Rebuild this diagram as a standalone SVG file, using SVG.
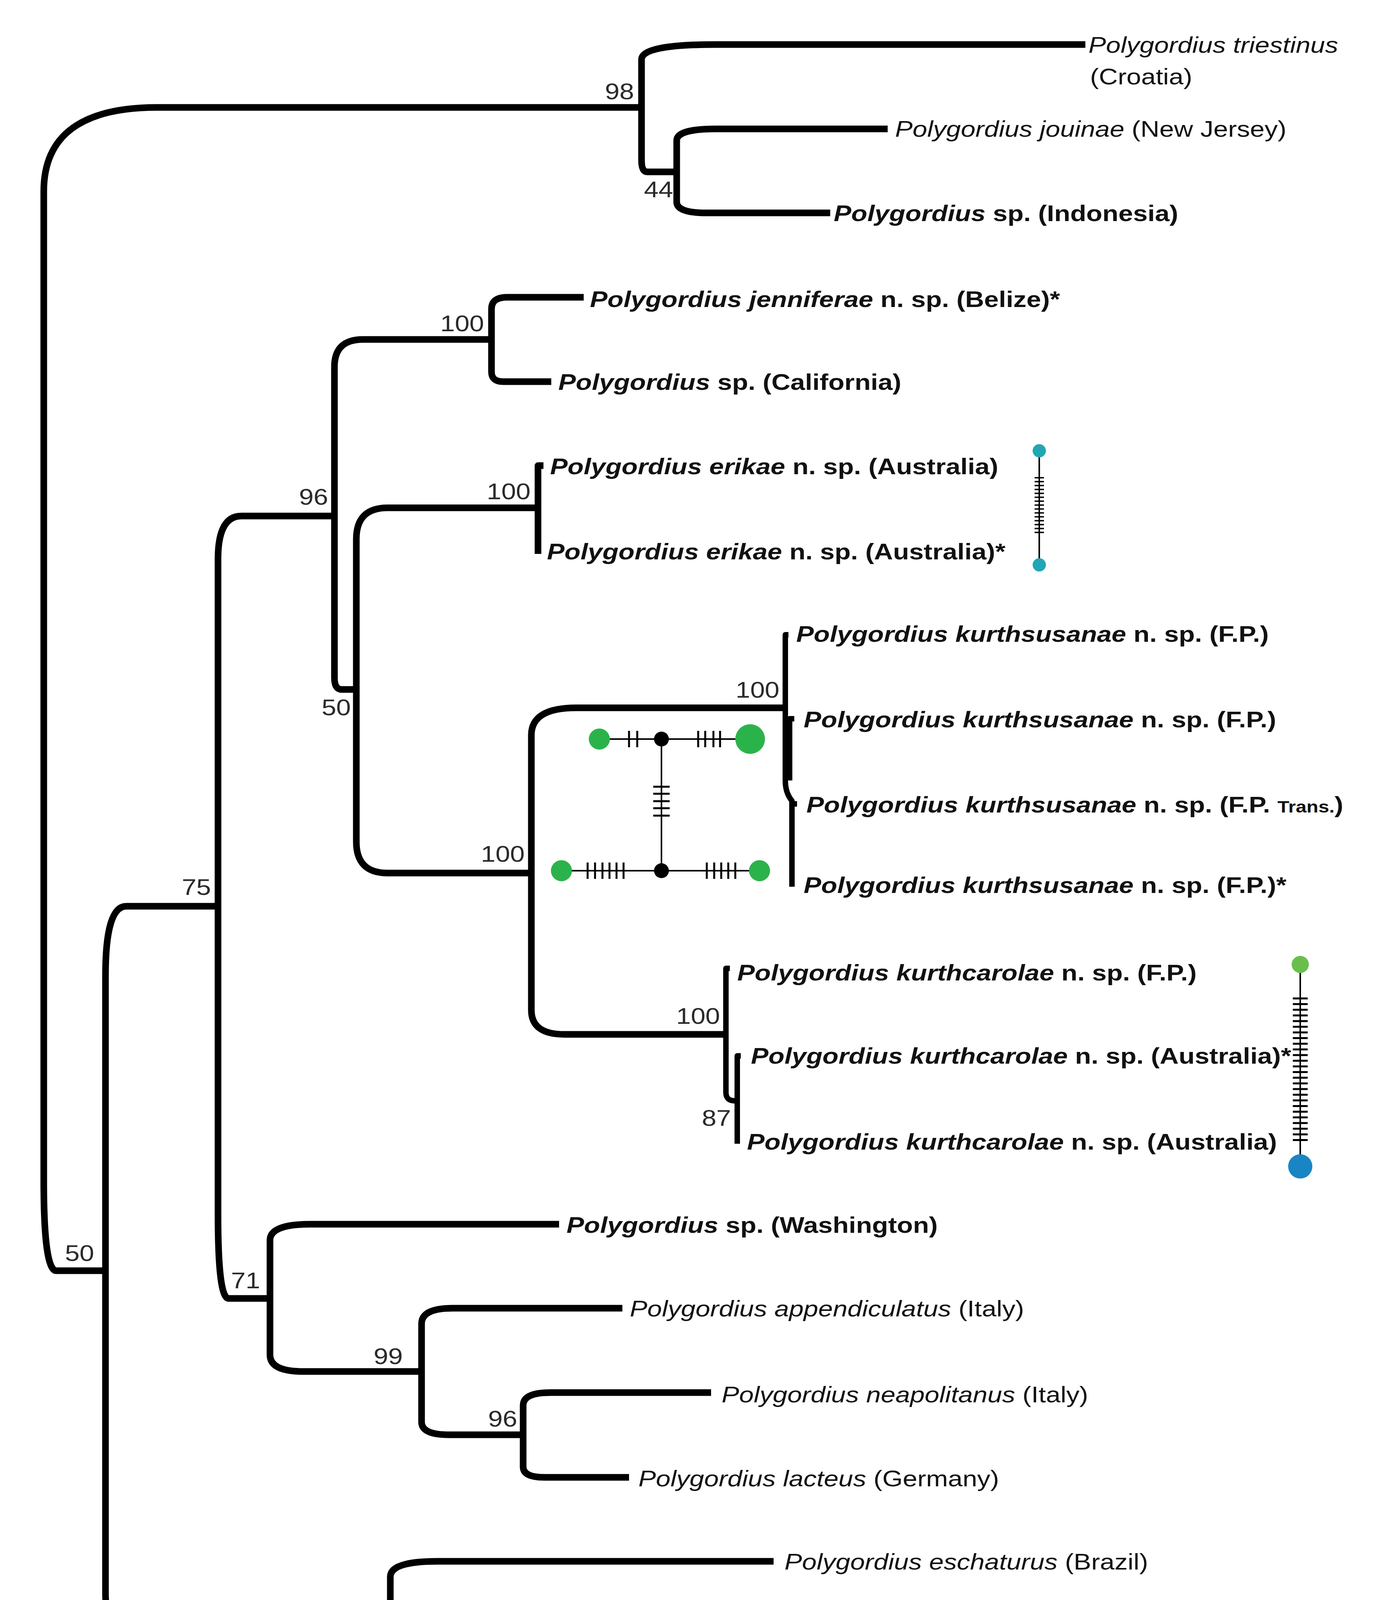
<svg xmlns="http://www.w3.org/2000/svg" width="3527" height="5065" viewBox="0 0 3527 5065">
<style>
.br{fill:none;stroke:#000;stroke-width:17;stroke-linecap:butt;stroke-linejoin:round}
.fine{fill:none;stroke:#000;stroke-width:14;stroke-linecap:butt;stroke-linejoin:round}
.t{font-family:"Liberation Sans",Arial,Helvetica,sans-serif;font-size:57px;fill:#111}
.b{font-weight:bold}
.i{font-style:italic}
.sm{font-size:42px}
.s{font-family:"Liberation Sans",Arial,Helvetica,sans-serif;font-size:57px;fill:#2a2a2a;text-anchor:end}
.nl{fill:none;stroke:#000;stroke-width:4}
.tk{fill:none;stroke:#000;stroke-width:5}
.tk3{fill:none;stroke:#000;stroke-width:3.5}
</style>
<rect width="3527" height="5065" fill="#fff"/>
<g id="connectors">
<path class="br" d="M112,1766 V490 Q112,275 402,275 H1642"/>
<path class="br" d="M112,1766 V3023 Q112,3253 144,3253 H270"/>
<path class="br" d="M1642,275 V152 Q1642,114 1832,114 H2778"/>
<path class="br" d="M1642,275 V410 Q1642,440 1657,440 H1732"/>
<path class="br" d="M1732,440 V360 Q1732,330 1832,330 H2272"/>
<path class="br" d="M1732,440 V517 Q1732,545 1807,545 H2125"/>
<path class="br" d="M270,3253 V2498 Q270,2320 323,2320 H558"/>
<path class="br" d="M270,3253 V4085 Q270,4185 410,4185 H999"/>
<path class="br" d="M558,2320 V1431 Q558,1321 618,1321 H856"/>
<path class="br" d="M558,2320 V3109 Q558,3324 585,3324 H691"/>
<path class="br" d="M856,1321 V939 Q856,869 929,869 H1258"/>
<path class="br" d="M856,1321 V1735 Q856,1765 874,1765 H912"/>
<path class="br" d="M1258,869 V791 Q1258,761 1298,761 H1494"/>
<path class="br" d="M1258,869 V952 Q1258,977 1288,977 H1411"/>
<path class="br" d="M912,1765 V1380 Q912,1300 992,1300 H1377"/>
<path class="br" d="M912,1765 V2155 Q912,2235 992,2235 H1360"/>
<path class="br" d="M1391,1192 H1377 V1418"/>
<path class="br" d="M1360,2235 V1882 Q1360,1812 1475,1812 H2010"/>
<path class="br" d="M1360,2235 V2586 Q1360,2648 1445,2648 H1858"/>
<path class="fine" d="M2018,1625 H2010 V1998 Q2010,2030 2027,2050 V2270"/>
<path class="fine" d="M2033,1840 H2021 V1998"/>
<path class="fine" d="M2027,2058 H2040"/>
<path class="fine" d="M1868,2479 H1858 V2796 Q1858,2818 1880,2818 H1887"/>
<path class="fine" d="M1896,2703 H1887 V2928"/>
<path class="br" d="M691,3324 V3175 Q691,3134 794,3134 H1431"/>
<path class="br" d="M691,3324 V3468 Q691,3511 776,3511 H1079"/>
<path class="br" d="M1079,3511 V3389 Q1079,3349 1159,3349 H1593"/>
<path class="br" d="M1079,3511 V3640 Q1079,3673 1149,3673 H1339"/>
<path class="br" d="M1339,3673 V3598 Q1339,3565 1409,3565 H1820"/>
<path class="br" d="M1339,3673 V3755 Q1339,3782 1394,3782 H1610"/>
<path class="br" d="M999,4185 V4037 Q999,3997 1119,3997 H1980"/>
<path class="br" d="M999,4185 V4338 Q999,4375 1104,4375 H1594"/>
<path class="br" d="M1606,4207 H1594 V4885 Q1594,4906 1612,4906 H1625"/>
<path class="fine" d="M1634,4553 H1625 V5008"/>
<path class="br" d="M1625,4792 H1655"/>
</g>
<g id="support">
<text class="s" transform="translate(1623,254) scale(1.18,1)">98</text>
<text class="s" transform="translate(1723,505) scale(1.18,1)">44</text>
<text class="s" transform="translate(1239,848) scale(1.18,1)">100</text>
<text class="s" transform="translate(840,1292) scale(1.18,1)">96</text>
<text class="s" transform="translate(898,1831) scale(1.18,1)">50</text>
<text class="s" transform="translate(1358,1278) scale(1.18,1)">100</text>
<text class="s" transform="translate(1995,1786) scale(1.18,1)">100</text>
<text class="s" transform="translate(1343,2206) scale(1.18,1)">100</text>
<text class="s" transform="translate(1843,2621) scale(1.18,1)">100</text>
<text class="s" transform="translate(1871,2882) scale(1.18,1)">87</text>
<text class="s" transform="translate(540,2291) scale(1.18,1)">75</text>
<text class="s" transform="translate(241,3228) scale(1.18,1)">50</text>
<text class="s" transform="translate(666,3298) scale(1.18,1)">71</text>
<text class="s" transform="translate(1031,3492) scale(1.18,1)">99</text>
<text class="s" transform="translate(1324,3652) scale(1.18,1)">96</text>
<text class="s" transform="translate(985,4162) scale(1.18,1)">88</text>
<text class="s" transform="translate(1570,4349) scale(1.18,1)">99</text>
</g>
<g id="tips">
<g id="tip-triestinus"><text class="t" transform="translate(2786,135) scale(1.18,1)"><tspan class="i">Polygordius triestinus</tspan></text><text class="t" transform="translate(2790,216) scale(1.18,1)">(Croatia)</text></g>
<g id="tip-jouinae"><text class="t" transform="translate(2291,350) scale(1.18,1)"><tspan class="i">Polygordius jouinae</tspan> (New Jersey)</text></g>
<g id="tip-indonesia"><text class="t b" transform="translate(2134,566) scale(1.18,1)"><tspan class="i">Polygordius</tspan> sp. (Indonesia)</text></g>
<g id="tip-jenniferae"><text class="t b" transform="translate(1510,786) scale(1.18,1)"><tspan class="i">Polygordius jenniferae</tspan> n. sp. (Belize)*</text></g>
<g id="tip-california"><text class="t b" transform="translate(1429,998) scale(1.18,1)"><tspan class="i">Polygordius</tspan> sp. (California)</text></g>
<g id="tip-erikae-1"><text class="t b" transform="translate(1408,1214) scale(1.18,1)"><tspan class="i">Polygordius erikae</tspan> n. sp. (Australia)</text></g>
<g id="tip-erikae-2"><text class="t b" transform="translate(1400,1432) scale(1.18,1)"><tspan class="i">Polygordius erikae</tspan> n. sp. (Australia)*</text></g>
<g id="tip-kurthsusanae-1"><text class="t b" transform="translate(2038,1643) scale(1.18,1)"><tspan class="i">Polygordius kurthsusanae</tspan> n. sp. (F.P.)</text></g>
<g id="tip-kurthsusanae-2"><text class="t b" transform="translate(2057,1862) scale(1.18,1)"><tspan class="i">Polygordius kurthsusanae</tspan> n. sp. (F.P.)</text></g>
<g id="tip-kurthsusanae-3"><text class="t b" transform="translate(2064,2080) scale(1.18,1)"><tspan class="i">Polygordius kurthsusanae</tspan> n. sp. (F.P. <tspan class="sm">Trans.</tspan>)</text></g>
<g id="tip-kurthsusanae-4"><text class="t b" transform="translate(2057,2286) scale(1.18,1)"><tspan class="i">Polygordius kurthsusanae</tspan> n. sp. (F.P.)*</text></g>
<g id="tip-kurthcarolae-1"><text class="t b" transform="translate(1887,2510) scale(1.18,1)"><tspan class="i">Polygordius kurthcarolae</tspan> n. sp. (F.P.)</text></g>
<g id="tip-kurthcarolae-2"><text class="t b" transform="translate(1922,2723) scale(1.18,1)"><tspan class="i">Polygordius kurthcarolae</tspan> n. sp. (Australia)*</text></g>
<g id="tip-kurthcarolae-3"><text class="t b" transform="translate(1912,2943) scale(1.18,1)"><tspan class="i">Polygordius kurthcarolae</tspan> n. sp. (Australia)</text></g>
<g id="tip-washington"><text class="t b" transform="translate(1450,3156) scale(1.18,1)"><tspan class="i">Polygordius</tspan> sp. (Washington)</text></g>
<g id="tip-appendiculatus"><text class="t" transform="translate(1612,3370) scale(1.18,1)"><tspan class="i">Polygordius appendiculatus</tspan> (Italy)</text></g>
<g id="tip-neapolitanus"><text class="t" transform="translate(1847,3590) scale(1.18,1)"><tspan class="i">Polygordius neapolitanus</tspan> (Italy)</text></g>
<g id="tip-lacteus"><text class="t" transform="translate(1634,3805) scale(1.18,1)"><tspan class="i">Polygordius lacteus</tspan> (Germany)</text></g>
<g id="tip-eschaturus"><text class="t" transform="translate(2008,4018) scale(1.18,1)"><tspan class="i">Polygordius eschaturus</tspan> (Brazil)</text></g>
<g id="tip-pacificus-1"><text class="t b" transform="translate(1631,4237) scale(1.18,1)"><tspan class="i">Polygordius pacificus</tspan> (Japan)</text></g>
<g id="tip-pacificus-2"><text class="t b" transform="translate(1625,4427) scale(1.18,1)"><tspan class="i">Polygordius pacificus</tspan> (Japan)</text></g>
<g id="tip-pacificus-3"><text class="t b" transform="translate(1649,4588) scale(1.18,1)"><tspan class="i">Polygordius pacificus</tspan> (Japan)</text></g>
<g id="tip-pacificus-4"><text class="t b" transform="translate(1669,4812) scale(1.18,1)"><tspan class="i">Polygordius pacificus</tspan> (Japan)</text></g>
<g id="tip-pacificus-5"><text class="t b" transform="translate(1642,5002) scale(1.18,1)"><tspan class="i">Polygordius pacificus</tspan> (Japan)</text></g>
</g>
<g id="network-erikae">
<line class="nl" x1="2660" y1="1154" x2="2660" y2="1446" stroke-width="3"/>
<path class="tk3" d="M2648,1223H2672M2648,1233H2672M2648,1243H2672M2648,1253H2672M2648,1263H2672M2648,1273H2672M2648,1283H2672M2648,1293H2672M2648,1303H2672M2648,1313H2672M2648,1323H2672M2648,1333H2672M2648,1343H2672M2648,1353H2672M2648,1363H2672"/>
<circle cx="2660" cy="1154" r="17" fill="#22a6b5"/>
<circle cx="2660" cy="1446" r="17" fill="#22a6b5"/>
</g>
<g id="network-kurthsusanae">
<line class="nl" x1="1534" y1="1892" x2="1920" y2="1892"/>
<line class="nl" x1="1693" y1="1892" x2="1693" y2="2229"/>
<line class="nl" x1="1437" y1="2229" x2="1944" y2="2229"/>
<path class="tk" d="M1610,1871V1913M1631,1871V1913M1787,1871V1913M1805,1871V1913M1826,1871V1913M1843,1871V1913"/>
<path class="tk" d="M1672,2014H1714M1672,2032H1714M1672,2051H1714M1672,2069H1714M1672,2088H1714"/>
<path class="tk" d="M1504,2208V2250M1523,2208V2250M1542,2208V2250M1560,2208V2250M1578,2208V2250M1596,2208V2250M1809,2208V2250M1828,2208V2250M1846,2208V2250M1864,2208V2250M1882,2208V2250"/>
<circle cx="1534" cy="1892" r="27" fill="#2bb34b"/>
<circle cx="1693" cy="1892" r="19" fill="#000"/>
<circle cx="1920" cy="1892" r="38" fill="#2bb34b"/>
<circle cx="1437" cy="2229" r="27" fill="#2bb34b"/>
<circle cx="1693" cy="2229" r="19" fill="#000"/>
<circle cx="1944" cy="2229" r="27" fill="#2bb34b"/>
</g>
<g id="network-kurthcarolae">
<line class="nl" x1="3328" y1="2469" x2="3328" y2="2986"/>
<path class="tk" d="M3309,2556H3347M3309,2570.5H3347M3309,2585H3347M3309,2599.5H3347M3309,2614H3347M3309,2628.5H3347M3309,2643H3347M3309,2657.5H3347M3309,2672H3347M3309,2686.5H3347M3309,2701H3347M3309,2715.5H3347M3309,2730H3347M3309,2744.5H3347M3309,2759H3347M3309,2773.5H3347M3309,2788H3347M3309,2802.5H3347M3309,2817H3347M3309,2831.5H3347M3309,2846H3347M3309,2860.5H3347M3309,2875H3347M3309,2889.5H3347M3309,2904H3347M3309,2918.5H3347"/>
<circle cx="3328" cy="2469" r="22" fill="#6abf4b"/>
<circle cx="3328" cy="2986" r="31" fill="#1a85c4"/>
</g>
<g id="scale-bar">
<line x1="227" y1="4507" x2="1099" y2="4507" stroke="#333" stroke-width="6"/>
<text class="s" style="text-anchor:middle" transform="translate(648,4456) scale(1.18,1)">0.7</text>
</g>
</svg>
